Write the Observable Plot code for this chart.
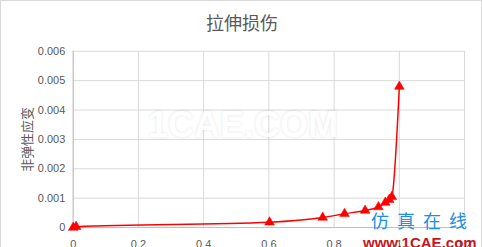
<!DOCTYPE html>
<html>
<head>
<meta charset="utf-8">
<script src="https://cdn.jsdelivr.net/npm/d3@7"></script>
<script src="https://cdn.jsdelivr.net/npm/@observablehq/plot@0.6"></script>
<style>
  html, body { margin: 0; padding: 0; background: #fff; }
  #chart { position: relative; width: 482px; height: 247px; overflow: hidden; box-sizing: border-box; border: 1px solid #d9d9d9; border-bottom: none; font-family: "Liberation Sans", Arial, sans-serif; }
  #chart svg { position: absolute; left: -1px; top: -1px; }
  .title { position: absolute; left: 0; width: 482px; top: 8px; text-align: center; font-family: "Noto Sans CJK SC", sans-serif; font-size: 18px; line-height: 26px; color: #595959; }
  .wm { position: absolute; left: 147px; top: 103px; font-family: "Liberation Sans", Arial, sans-serif; font-weight: bold; font-size: 36px; line-height: 41px; color: #fff; text-shadow: 0 0 3px rgba(0,0,0,0.12); opacity: 0.9; }
  .logo1 { position: absolute; left: 370px; top: 206px; font-family: "Noto Sans CJK SC", sans-serif; font-size: 18px; letter-spacing: 8px; color: #1e8ee6; }
  .logo2 { position: absolute; left: 362px; top: 233px; font-family: "Liberation Sans", Arial, sans-serif; font-weight: bold; font-size: 15px; line-height: 17px; color: #c8161d; }
</style>
</head>
<body>
<div id="chart"></div>
<script>
// Inelastic strain vs. tensile damage
const damage = [0, 0.009, 0.602, 0.765, 0.832, 0.895, 0.936, 0.957, 0.969, 0.977, 1.0];
const strain = [0, 0.00003, 0.00018, 0.00034, 0.00047, 0.00058, 0.0007, 0.00085, 0.00095, 0.00105, 0.0048];
const xTicks = [0, 0.2, 0.4, 0.6, 0.8, 1, 1.2];
const yTicks = [0, 0.001, 0.002, 0.003, 0.004, 0.005, 0.006];
const yTitle = "非弹性应变";

const rows = damage.map((d, i) => ({x: d, y: strain[i]}));
const fmtY = d => String(+d.toFixed(3));

const plot = Plot.plot({
  width: 482,
  height: 247,
  marginLeft: 73,
  marginRight: 16,
  marginTop: 51,
  marginBottom: 19,
  style: {fontFamily: "'Liberation Sans', Arial, sans-serif", fontSize: "11px", color: "#595959", background: "transparent", overflow: "visible"},
  x: {domain: [0, 1.2]},
  y: {domain: [0, 0.006]},
  marks: [
    Plot.gridX(xTicks, {stroke: "#d9d9d9", strokeOpacity: 1}),
    Plot.gridY(yTicks, {stroke: "#d9d9d9", strokeOpacity: 1}),
    Plot.ruleX([0], {stroke: "#bfbfbf"}),
    Plot.ruleY([0], {stroke: "#bfbfbf"}),
    Plot.axisX({ticks: xTicks, tickFormat: d => String(d), tickSize: 0, tickPadding: 13, label: null}),
    Plot.axisY({ticks: yTicks, tickFormat: fmtY, tickSize: 0, tickPadding: 8, label: null}),
    Plot.text([yTitle], {frameAnchor: "left", textAnchor: "middle", lineAnchor: "middle", rotate: -90, dx: -46,
      fontSize: 13, fill: "#595959", fontFamily: "'Noto Sans CJK SC', sans-serif"}),
    Plot.line(rows, {x: "x", y: "y", stroke: "#ff0000", strokeWidth: 1.5, curve: "monotone-x"}),
    Plot.dot(rows, {x: "x", y: "y", symbol: "triangle", r: 3.6, fill: "#ff0000", stroke: "#ff0000", strokeWidth: 0.5})
  ]
});

const chart = document.getElementById("chart");
chart.append(plot);
const add = (cls, text) => { const el = document.createElement("div"); el.className = cls; el.textContent = text; chart.append(el); };
add("title", "拉伸损伤");
add("wm", "1CAE.COM");
add("logo1", "仿真在线");
add("logo2", "www.1CAE.com");
</script>
</body>
</html>
